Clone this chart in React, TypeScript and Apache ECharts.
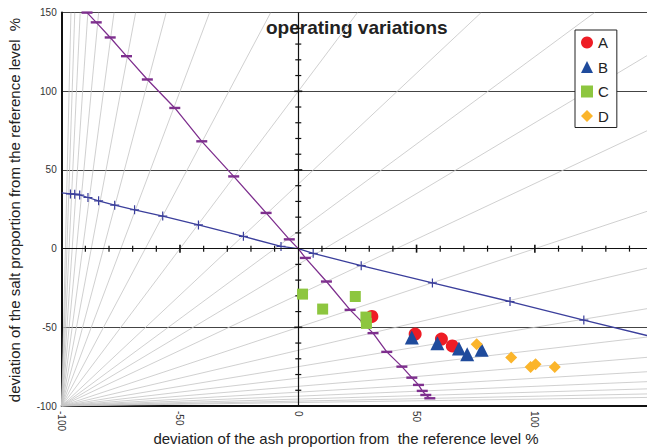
import React, { useEffect, useRef } from "react";
import * as echarts from "echarts";

// ---- axis ranges and ticks ----
const xMin = -100;
const xMax = 147.4;
const yMin = -100;
const yMax = 150;
const zeroLineTicks = [-90, -80, -70, -60, -50, -40, -30, -20, -10, 10, 20, 30, 40, 50, 60, 70, 80, 90, 100, 110, 120, 130, 140];
const majorZeroTicks = [-50, 50, 100];

// ---- fan of constant-ratio lines through (-100,-100) ----
const fanRatios = [64, 45.25, 32, 22.6, 16, 11.3, 8, 5.66, 4, 2.83, 2, 1.41, 1.11, 0.9, 0.707, 0.5, 0.354, 0.25, 0.177, 0.125, 0.088, 0.0625, 0.044, 0.031, 0.022];

// ---- blue reference curve (+ markers) ----
const blueX = [-100, -96.3, -94.5, -92.4, -88.9, -84.4, -77.6, -69.2, -57.3, -42.2, -23.2, -7.3, 0, 6.3, 26.6, 56.7, 89.5, 120.7, 147.4];
const blueY = [35.5, 34.8, 34.6, 34.1, 32.5, 30.4, 27.6, 24.7, 20.7, 15.1, 7.8, 1.4, 0, -3.0, -10.8, -21.8, -33.6, -45.4, -55.2];
const blueMarked = [false, true, true, true, true, true, true, true, true, true, true, true, false, true, true, true, true, true, false];

// ---- purple reference curve (dash markers) ----
const purpleX = [-89.3, -85.4, -79.5, -72.6, -63.8, -52.2, -40.8, -27.3, -13.6, -3.8, 0, 3.0, 11.9, 21.9, 31.6, 37.4, 43.8, 48.0, 50.8, 52.4, 53.9, 55.6];
const purpleY = [150, 143.8, 134.2, 122.3, 107.5, 89.4, 68.2, 45.9, 22.7, 5.9, 0, -5.9, -20.9, -38.9, -53.7, -65.6, -75.0, -82.0, -86.6, -90.4, -93.0, -95.1];
const purpleMarked = [true, true, true, true, true, true, true, true, true, true, false, true, true, true, true, true, true, true, true, true, true, true];

// ---- operating points ----
const aX = [31.1, 49.4, 60.5, 65.1];
const aY = [-43.1, -54.3, -57.5, -61.8];
const bX = [48.0, 58.8, 67.9, 71.4, 77.5];
const bY = [-56.5, -60.1, -63.5, -67.1, -64.3];
const cX = [1.8, 10.3, 24.1, 28.6, 28.8];
const cY = [-28.9, -38.4, -30.4, -43.5, -47.5];
const dX = [75.4, 90.0, 98.2, 100.3, 108.4];
const dY = [-60.7, -69.2, -75.2, -73.5, -75.2];

const FONT = "Liberation Sans, Arial, Helvetica, sans-serif";
const PLUS = "path://M3.9,0h1.2v3.9h3.9v1.2h-3.9v3.9h-1.2v-3.9h-3.9v-1.2h3.9z";

function zip(xs: number[], ys: number[]) {
  return xs.map((x, i) => [x, ys[i]]);
}

function fanSegment(k: number) {
  const dxTop = (yMax - yMin) / k;
  if (xMin + dxTop <= xMax) {
    return { coords: [[xMin, yMin], [xMin + dxTop, yMax]] };
  }
  return { coords: [[xMin, yMin], [xMax, yMin + (xMax - xMin) * k]] };
}

export default function App() {
  const ref = useRef<HTMLDivElement>(null);
  useEffect(() => {
    if (!ref.current) return;
    const chart = echarts.init(ref.current, null, { renderer: "svg" });
    const option: any = {
      animation: false,
      backgroundColor: "#ffffff",
      textStyle: { fontFamily: FONT },
      grid: { left: 61.7, right: 0, top: 12.6, bottom: 41, containLabel: false, outerBoundsMode: "none" },
      xAxis: {
        type: "value",
        min: xMin,
        max: xMax,
        interval: 50,
        axisLine: { show: true, onZero: false, lineStyle: { color: "#111", width: 2 } },
        axisTick: { show: false },
        axisLabel: { rotate: -90, fontSize: 10, color: "#333", margin: 5, showMaxLabel: false, showMinLabel: true, fontFamily: FONT },
        splitLine: { show: false },
      },
      yAxis: {
        type: "value",
        min: yMin,
        max: yMax,
        interval: 50,
        axisLine: { show: true, onZero: false, lineStyle: { color: "#111", width: 2 } },
        axisTick: { show: false },
        axisLabel: { fontSize: 10, color: "#333", margin: 5, showMinLabel: true, showMaxLabel: true, fontFamily: FONT },
        splitLine: { show: true, lineStyle: { color: "#444", width: 1 } },
      },
      legend: {
        orient: "vertical",
        left: 575,
        top: 30,
        padding: [5, 8, 4, 6],
        itemGap: 9.5,
        itemWidth: 12,
        itemHeight: 12,
        borderColor: "#222",
        borderWidth: 1,
        backgroundColor: "#ffffff",
        textStyle: { fontSize: 15, color: "#222", fontFamily: FONT },
        data: ["A", "B", "C", "D"],
      },
      graphic: [
        {
          type: "text",
          left: 266,
          top: 18,
          style: { text: "operating variations", font: `bold 19px ${FONT}`, fill: "#222" },
        },
        {
          type: "text",
          x: 346,
          y: 438,
          style: { text: "deviation of the ash proportion from  the reference level %", font: `15px ${FONT}`, fill: "#222", align: "center", verticalAlign: "middle" },
        },
        {
          type: "text",
          x: 14,
          y: 210,
          rotation: Math.PI / 2,
          style: { text: "deviation of the salt proportion from the reference level  %", font: `15px ${FONT}`, fill: "#222", align: "center", verticalAlign: "middle" },
        },
      ],
      series: [
        {
          type: "lines",
          coordinateSystem: "cartesian2d",
          silent: true,
          z: 1,
          lineStyle: { color: "#c4c4c4", width: 0.8, opacity: 1 },
          data: fanRatios.map(fanSegment),
        },
        {
          name: "zeroX",
          type: "scatter",
          silent: true,
          z: 3,
          symbol: "rect",
          symbolSize: (v: number[]) => (majorZeroTicks.includes(v[0]) ? [1.6, 8] : [1.2, 6]),
          itemStyle: { color: "#111", opacity: 1 },
          data: zeroLineTicks.map((t) => [t, 0]),
          markLine: {
            silent: true,
            symbol: ["none", "none"],
            label: { show: false },
            lineStyle: { color: "#111", width: 1.2, type: "solid" },
            data: [{ xAxis: 0 }, { yAxis: 0 }],
          },
        },
        {
          name: "zeroY",
          type: "scatter",
          silent: true,
          z: 3,
          symbol: "rect",
          symbolSize: (v: number[]) => (majorZeroTicks.includes(v[1]) ? [8, 1.6] : [6, 1.2]),
          itemStyle: { color: "#111", opacity: 1 },
          data: zeroLineTicks.map((t) => [0, t]),
        },
        {
          name: "blueCurve",
          type: "line",
          silent: true,
          z: 4,
          symbol: PLUS,
          symbolSize: 9,
          showAllSymbol: true,
          lineStyle: { color: "#3b3f9c", width: 1.3 },
          itemStyle: { color: "#3b3f9c", opacity: 1 },
          data: zip(blueX, blueY).map((p, i) => ({ value: p, symbolSize: blueMarked[i] ? 9 : 0 })),
        },
        {
          name: "purpleCurve",
          type: "line",
          silent: true,
          z: 4,
          symbol: "rect",
          symbolSize: [11, 2.4],
          showAllSymbol: true,
          lineStyle: { color: "#7e2f8e", width: 1.3 },
          itemStyle: { color: "#7e2f8e", opacity: 1 },
          data: zip(purpleX, purpleY).map((p, i) => ({ value: p, symbolSize: purpleMarked[i] ? [11, 2.4] : 0 })),
        },
        {
          name: "A",
          type: "scatter",
          z: 5,
          symbol: "circle",
          symbolSize: 13,
          itemStyle: { color: "#ee1c25", opacity: 1 },
          data: zip(aX, aY),
        },
        {
          name: "B",
          type: "scatter",
          z: 6,
          symbol: "triangle",
          symbolSize: 14,
          itemStyle: { color: "#1f4b9c", opacity: 1 },
          data: zip(bX, bY),
        },
        {
          name: "C",
          type: "scatter",
          z: 6,
          symbol: "rect",
          symbolSize: 11,
          itemStyle: { color: "#8dc63f", opacity: 1 },
          data: zip(cX, cY),
        },
        {
          name: "D",
          type: "scatter",
          z: 6,
          symbol: "diamond",
          symbolSize: 12,
          itemStyle: { color: "#fbb52b", opacity: 1 },
          data: zip(dX, dY),
        },
      ],
    };
    chart.setOption(option);
    return () => chart.dispose();
  }, []);
  return <div ref={ref} style={{ width: 647, height: 447, position: "absolute", left: 0, top: 0 }} />;
}
